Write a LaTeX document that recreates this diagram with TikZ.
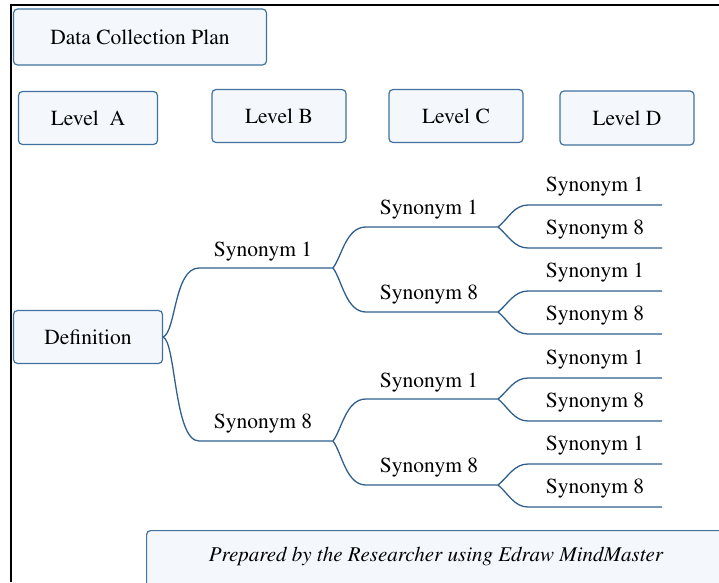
\documentclass[tikz,border=0pt]{standalone}
\usepackage[T1]{fontenc}
\usepackage{mathptmx}
\definecolor{boxline}{HTML}{41719C}
\definecolor{boxfill}{HTML}{F4F8FD}
\definecolor{branchline}{HTML}{2F5F8C}
\tikzset{
  levelbox/.style={draw=boxline, fill=boxfill, rounded corners=4pt, line width=1.2pt,
    inner sep=0pt, font=\fontsize{21.5}{25}\selectfont},
  synlabel/.style={inner sep=0pt, font=\fontsize{21.5}{25}\selectfont},
  branch/.style={draw=branchline, line width=1.3pt}
}

\begin{document}
\begin{tikzpicture}[x=1pt,y=-1pt]
  \useasboundingbox (0,0) rectangle (719,582);
  % frame
  \draw[line width=2pt] (11,582) -- (11,5) -- (719,5);

  % header boxes
  \node[levelbox, minimum width=253, minimum height=56] (plan) at (140,37) {Data Collection Plan};
  \node[levelbox, minimum width=139, minimum height=53] (levA) at (88,118) {Level\ \ A};
  \node[levelbox, minimum width=134, minimum height=53] (levB) at (279,116) {Level B};
  \node[levelbox, minimum width=134, minimum height=53] (levC) at (456,116) {Level C};
  \node[levelbox, minimum width=134, minimum height=54] (levD) at (627,118) {Level D};

  % root
  \node[levelbox, minimum width=149, minimum height=53] (def) at (88,337) {Definition};

  % level B branches
  \coordinate (b1s) at (199,268); \coordinate (b1e) at (333,268);
  \coordinate (b2s) at (199,441); \coordinate (b2e) at (333,441);
  \draw[branch] (def.east) .. controls (176,332) and (174,268) .. (b1s) -- (b1e);
  \draw[branch] (def.east) .. controls (176,342) and (174,441) .. (b2s) -- (b2e);
  \node[synlabel] (b1) at (263,252) {Synonym 1};
  \node[synlabel] (b2) at (263,424) {Synonym 8};

  % level C branches
  \coordinate (c1s) at (366,227); \coordinate (c1e) at (498,227);
  \coordinate (c2s) at (366,312); \coordinate (c2e) at (498,312);
  \coordinate (c3s) at (366,399); \coordinate (c3e) at (498,399);
  \coordinate (c4s) at (366,485); \coordinate (c4e) at (498,485);
  \draw[branch] (b1e) .. controls (342,256) and (346,227) .. (c1s) -- (c1e);
  \draw[branch] (b1e) .. controls (342,280) and (346,312) .. (c2s) -- (c2e);
  \draw[branch] (b2e) .. controls (342,429) and (346,399) .. (c3s) -- (c3e);
  \draw[branch] (b2e) .. controls (342,453) and (346,485) .. (c4s) -- (c4e);
  \node[synlabel] (c1) at (429,210) {Synonym 1};
  \node[synlabel] (c2) at (429,295) {Synonym 8};
  \node[synlabel] (c3) at (429,383) {Synonym 1};
  \node[synlabel] (c4) at (429,468) {Synonym 8};

  % level D branches
  \coordinate (d1s) at (528,205); \coordinate (d1e) at (662,205);
  \coordinate (d2s) at (528,248); \coordinate (d2e) at (662,248);
  \coordinate (d3s) at (528,291); \coordinate (d3e) at (662,291);
  \coordinate (d4s) at (528,334); \coordinate (d4e) at (662,334);
  \coordinate (d5s) at (528,378); \coordinate (d5e) at (662,378);
  \coordinate (d6s) at (528,421); \coordinate (d6e) at (662,421);
  \coordinate (d7s) at (528,464); \coordinate (d7e) at (662,464);
  \coordinate (d8s) at (528,507); \coordinate (d8e) at (662,507);
  \draw[branch] (c1e) .. controls (508,219) and (514,205) .. (d1s) -- (d1e);
  \draw[branch] (c1e) .. controls (508,235) and (514,248) .. (d2s) -- (d2e);
  \draw[branch] (c2e) .. controls (508,304) and (514,291) .. (d3s) -- (d3e);
  \draw[branch] (c2e) .. controls (508,320) and (514,334) .. (d4s) -- (d4e);
  \draw[branch] (c3e) .. controls (508,391) and (514,378) .. (d5s) -- (d5e);
  \draw[branch] (c3e) .. controls (508,407) and (514,421) .. (d6s) -- (d6e);
  \draw[branch] (c4e) .. controls (508,477) and (514,464) .. (d7s) -- (d7e);
  \draw[branch] (c4e) .. controls (508,493) and (514,507) .. (d8s) -- (d8e);
  \node[synlabel] (d1) at (595,187) {Synonym 1};
  \node[synlabel] (d2) at (595,230) {Synonym 8};
  \node[synlabel] (d3) at (595,273) {Synonym 1};
  \node[synlabel] (d4) at (595,316) {Synonym 8};
  \node[synlabel] (d5) at (595,360) {Synonym 1};
  \node[synlabel] (d6) at (595,403) {Synonym 8};
  \node[synlabel] (d7) at (595,446) {Synonym 1};
  \node[synlabel] (d8) at (595,489) {Synonym 8};

  % source note
  \node[levelbox, anchor=north west, minimum width=590, minimum height=70] (note) at (146,530) {};
  \node[synlabel, font=\fontsize{21}{25}\selectfont\itshape] (notetext) at (436,557)
    {Prepared by the Researcher using Edraw MindMaster};
\end{tikzpicture}
\end{document}
